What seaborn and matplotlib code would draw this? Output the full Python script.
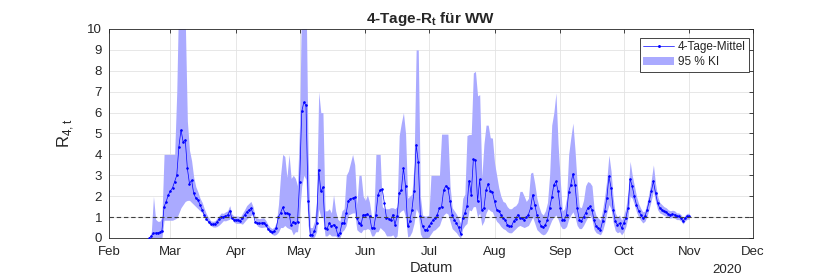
import pandas as pd
import matplotlib.pyplot as plt
from matplotlib.lines import Line2D
from matplotlib.patches import Patch
import seaborn as sns

# Data: 4-day R_t for WW, daily from 2020-02-20 to 2020-11-01
START_DATE = '2020-02-20'

r_mean = [
    0.0, 0.1, 0.23, 0.24, 0.25, 0.28, 0.35, 1.5, 1.74, 2.06,
    2.25, 2.4, 2.7, 3.0, 4.37, 5.17, 4.6, 4.7, 3.33, 2.6,
    2.77, 2.13, 1.9, 1.82, 1.58, 1.34, 1.1, 0.91, 0.78, 0.67,
    0.65, 0.67, 0.78, 0.9, 1.02, 1.0, 1.05, 1.1, 1.3, 0.94,
    0.87, 0.87, 0.87, 0.82, 0.97, 1.1, 1.25, 1.34, 1.42, 1.18,
    0.78, 0.72, 0.7, 0.72, 0.74, 0.62, 0.45, 0.33, 0.27, 0.33,
    0.5, 1.02, 1.2, 1.46, 1.21, 1.18, 1.15, 0.62, 0.78, 0.74,
    0.78, 2.7, 6.06, 6.5, 6.35, 1.75, 0.16, 0.16, 0.32, 0.72,
    3.27, 2.23, 2.43, 0.48, 0.45, 0.72, 0.56, 0.64, 0.51, 0.16,
    0.24, 0.72, 0.72, 1.2, 1.79, 1.87, 1.9, 1.95, 0.96, 0.72,
    0.64, 1.12, 1.1, 1.15, 1.04, 0.48, 0.48, 1.12, 2.07, 2.3,
    2.33, 1.67, 0.96, 0.93, 0.84, 1.12, 0.64, 1.04, 2.15, 2.3,
    3.35, 2.47, 0.56, 0.8, 1.35, 2.23, 4.47, 3.64, 1.04, 0.56,
    0.4, 0.4, 0.56, 0.72, 0.88, 0.96, 1.12, 1.43, 1.5, 2.3,
    2.5, 2.4, 1.75, 1.12, 0.88, 0.72, 0.51, 0.19, 0.96, 1.2,
    1.52, 2.75, 2.07, 3.76, 3.73, 1.75, 2.8, 1.35, 1.43, 2.3,
    2.6, 2.23, 2.2, 1.75, 1.35, 1.3, 1.12, 0.96, 0.88, 0.64,
    0.56, 0.56, 0.8, 0.93, 1.12, 0.96, 0.96, 0.88, 1.0, 1.12,
    1.43, 2.07, 1.59, 1.12, 0.8, 0.56, 0.51, 0.64, 0.88, 1.43,
    1.94, 2.55, 2.71, 2.23, 1.43, 0.88, 0.88, 1.12, 2.2, 2.55,
    3.07, 2.55, 1.43, 0.88, 0.8, 1.0, 1.2, 1.43, 1.51, 1.35,
    0.84, 0.56, 0.48, 0.4, 0.8, 1.27, 1.9, 2.95, 2.4, 1.35,
    0.8, 0.64, 0.7, 0.48, 0.72, 0.96, 1.43, 2.83, 2.47, 1.99,
    1.59, 1.31, 1.12, 0.96, 1.04, 1.35, 1.75, 2.23, 2.71, 2.15,
    1.67, 1.43, 1.35, 1.27, 1.24, 1.15, 1.12, 1.15, 1.12, 1.04,
    1.04, 0.96, 0.8, 0.96, 1.04, 1.05,
]

ci_low = [
    0.0, 0.0, 0.0, 0.0, 0.0, 0.0, 0.0, 0.85, 0.85, 0.85,
    0.85, 0.85, 0.9, 0.95, 1.2, 1.45, 1.6, 1.75, 1.8, 1.8,
    1.7, 1.6, 1.5, 1.4, 1.3, 1.2, 1.05, 0.85, 0.7, 0.6,
    0.53, 0.52, 0.55, 0.62, 0.72, 0.83, 0.82, 0.86, 0.9, 1.05,
    0.75, 0.7, 0.7, 0.7, 0.66, 0.78, 0.9, 1.0, 1.08, 1.12,
    0.9, 0.58, 0.52, 0.5, 0.52, 0.53, 0.42, 0.27, 0.17, 0.13,
    0.17, 0.28, 0.5, 0.5, 0.6, 0.5, 0.45, 0.4, 0.15, 0.3,
    0.3, 1.2, 2.5, 3.0, 2.8, 0.6, 0.0, 0.0, 0.05, 0.3,
    1.4, 1.0, 1.0, 0.1, 0.1, 0.2, 0.1, 0.1, 0.1, 0.0,
    0.0, 0.3, 0.4, 0.6, 1.1, 1.15, 1.2, 1.2, 0.4, 0.3,
    0.25, 0.4, 0.4, 0.45, 0.4, 0.1, 0.1, 0.3, 0.3, 0.5,
    0.4, 0.3, 0.1, 0.1, 0.1, 0.15, 0.0, 0.1, 1.2, 1.3,
    1.35, 1.0, 0.05, 0.1, 0.3, 0.7, 1.4, 1.2, 0.2, 0.0,
    0.0, 0.0, 0.05, 0.2, 0.35, 0.4, 0.5, 0.6, 0.9, 1.1,
    1.2, 1.15, 0.8, 0.45, 0.35, 0.25, 0.1, 0.0, 0.45, 0.6,
    0.7, 1.35, 1.3, 1.5, 1.5, 1.0, 1.2, 0.6, 0.8, 1.2,
    1.4, 1.3, 1.25, 1.0, 0.8, 0.7, 0.55, 0.45, 0.4, 0.3,
    0.25, 0.25, 0.35, 0.45, 0.55, 0.6, 0.55, 0.5, 0.55, 0.6,
    0.8, 1.0, 0.7, 0.4, 0.3, 0.2, 0.15, 0.2, 0.35, 0.6,
    0.85, 1.0, 1.1, 0.9, 0.6, 0.45, 0.45, 0.55, 0.9, 1.1,
    1.25, 1.0, 0.6, 0.45, 0.45, 0.6, 0.8, 1.0, 1.1, 0.9,
    0.4, 0.25, 0.2, 0.15, 0.35, 0.7, 1.2, 1.6, 1.4, 0.75,
    0.35, 0.25, 0.3, 0.15, 0.3, 0.55, 1.0, 2.0, 1.9, 1.6,
    1.25, 1.0, 0.85, 0.72, 0.8, 1.05, 1.4, 1.8, 2.25, 1.75,
    1.35, 1.2, 1.15, 1.08, 1.05, 0.98, 0.95, 0.98, 0.95, 0.88,
    0.88, 0.82, 0.67, 0.82, 0.9, 0.9,
]

ci_high = [
    0.0, 0.3, 2.0, 0.9, 0.8, 0.8, 1.0, 4.0, 4.0, 4.0,
    4.0, 4.0, 4.0, 7.0, 12.0, 12.0, 12.0, 10.5, 5.6, 4.2,
    3.7, 2.9, 2.45, 2.2, 1.9, 1.7, 1.4, 1.15, 0.98, 0.82,
    0.8, 0.82, 0.95, 1.08, 1.2, 1.18, 1.25, 1.3, 1.55, 1.15,
    1.05, 1.05, 1.05, 1.0, 1.18, 1.35, 1.55, 1.65, 1.75, 1.5,
    1.0, 0.95, 0.92, 0.95, 0.97, 0.85, 0.65, 0.52, 0.45, 0.52,
    0.75, 1.6, 3.0, 4.0, 3.9, 2.9, 4.0, 2.85, 3.0, 2.85,
    2.5, 5.5, 12.0, 12.0, 12.0, 4.0, 0.5, 0.5, 0.8, 1.8,
    7.0, 6.0, 6.0, 1.3, 1.3, 1.4, 1.2, 2.07, 1.3, 0.9,
    0.8, 1.3, 1.4, 3.0, 3.2, 3.6, 4.0, 3.5, 1.6, 3.0,
    3.0, 2.0, 1.8, 2.07, 1.7, 1.0, 1.0, 4.0, 4.0, 4.0,
    1.5, 1.4, 1.4, 1.4, 1.45, 1.45, 1.4, 1.5, 4.9, 5.5,
    6.0, 5.0, 1.9, 2.0, 2.1, 3.5, 9.0, 9.0, 2.0, 1.1,
    1.05, 1.05, 1.1, 3.0, 3.0, 3.0, 3.0, 3.0, 4.97, 4.97,
    4.97, 4.97, 2.5, 1.45, 1.3, 1.15, 0.95, 0.7, 1.9, 2.1,
    4.9, 4.95, 4.95, 7.9, 7.97, 6.8, 6.86, 2.9, 4.5, 5.4,
    5.4, 4.8, 4.78, 3.6, 3.0, 2.4, 2.0, 1.75, 1.7, 1.5,
    1.4, 1.4, 1.5, 1.55, 1.7, 2.23, 2.23, 2.0, 1.75, 1.9,
    3.1, 3.15, 2.6, 1.9, 1.5, 1.2, 1.1, 1.3, 1.7, 3.0,
    5.4, 6.0, 6.94, 4.5, 2.8, 1.3, 1.4, 1.9, 4.0, 4.8,
    5.5, 4.2, 2.6, 1.5, 1.45, 1.8, 2.5, 2.7, 2.65, 2.5,
    1.4, 1.05, 0.95, 0.85, 1.35, 2.0, 2.8, 3.97, 3.2, 1.9,
    1.2, 1.0, 1.1, 0.85, 1.1, 1.45, 2.2, 3.67, 3.0, 2.5,
    2.0, 1.65, 1.42, 1.25, 1.3, 1.7, 2.2, 2.8, 3.5, 2.6,
    2.0, 1.7, 1.6, 1.5, 1.45, 1.35, 1.3, 1.33, 1.3, 1.2,
    1.2, 1.12, 0.95, 1.1, 1.18, 1.18,
]

month_labels = ['Feb', 'Mar', 'Apr', 'May', 'Jun', 'Jul', 'Aug', 'Sep', 'Oct', 'Nov', 'Dec']

sns.set_style('white')
plt.rcParams['font.family'] = ['Liberation Sans', 'DejaVu Sans']
plt.rcParams['mathtext.fontset'] = 'custom'
plt.rcParams['mathtext.rm'] = 'Liberation Sans'
plt.rcParams['mathtext.bf'] = 'Liberation Sans:bold'

df = pd.DataFrame({
    'datum': pd.date_range(START_DATE, periods=len(r_mean), freq='D'),
    'r': r_mean,
    'lo': ci_low,
    'hi': ci_high,
})

fig = plt.figure(figsize=(8.3, 2.78), dpi=100)
ax = fig.add_axes([0.1313, 0.1439, 0.7759, 0.7518])

band_color = '#aaaaff'
ax.fill_between(df['datum'], df['lo'], df['hi'], color=band_color, linewidth=0, zorder=2)
sns.lineplot(data=df, x='datum', y='r', color='blue', marker='.', markersize=2.2,
             markeredgecolor='blue', linewidth=0.5, ax=ax, zorder=3)
ax.axhline(1, color='#404040', linestyle='--', linewidth=0.8, dashes=(4, 2.5), zorder=4)

# axes and ticks, MATLAB-like
month_ticks = pd.date_range('2020-02-01', '2020-12-01', freq='MS')
ax.set_xlim(month_ticks[0], month_ticks[-1])
ax.set_ylim(0, 10)
ax.set_xticks(month_ticks)
ax.set_xticklabels(month_labels)
ax.set_yticks(range(0, 11))
ax.grid(True, color='#e3e3e3', linewidth=0.6, zorder=0)
ax.set_axisbelow(True)
ax.tick_params(direction='in', length=3, width=0.6, colors='#262626',
               labelsize=9.5, top=True, right=True)
ax.tick_params(axis='x', pad=6)
ax.tick_params(axis='y', pad=5)
for sp in ax.spines.values():
    sp.set_color('#262626')
    sp.set_linewidth(0.6)

ax.set_title(r'4-Tage-R$_{\mathbf{t}}$ für WW', fontsize=11, fontweight='bold', pad=4)
ax.set_xlabel('Datum', fontsize=10.5, color='#262626', labelpad=2)
ax.set_ylabel(r'R$_{\mathrm{4,t}}$', fontsize=12, color='#262626', labelpad=8)
ax.text(0.982, -0.155, '2020', transform=ax.transAxes, ha='right', va='center',
        fontsize=9.5, color='#262626')

handles = [
    Line2D([0], [0], color='blue', marker='.', markersize=2.2, linewidth=0.5),
    Patch(facecolor=band_color, edgecolor='none'),
]
leg = ax.legend(handles, ['4-Tage-Mittel', '95 % KI'], loc='upper right',
                bbox_to_anchor=(0.9995, 0.975), fontsize=8.5, frameon=True,
                fancybox=False, framealpha=1, edgecolor='#262626',
                borderpad=0.3, labelspacing=0.25, handlelength=2.6,
                handletextpad=0.3, borderaxespad=0.3)
leg.get_frame().set_linewidth(0.6)

fig.savefig('out.png', dpi=100)
